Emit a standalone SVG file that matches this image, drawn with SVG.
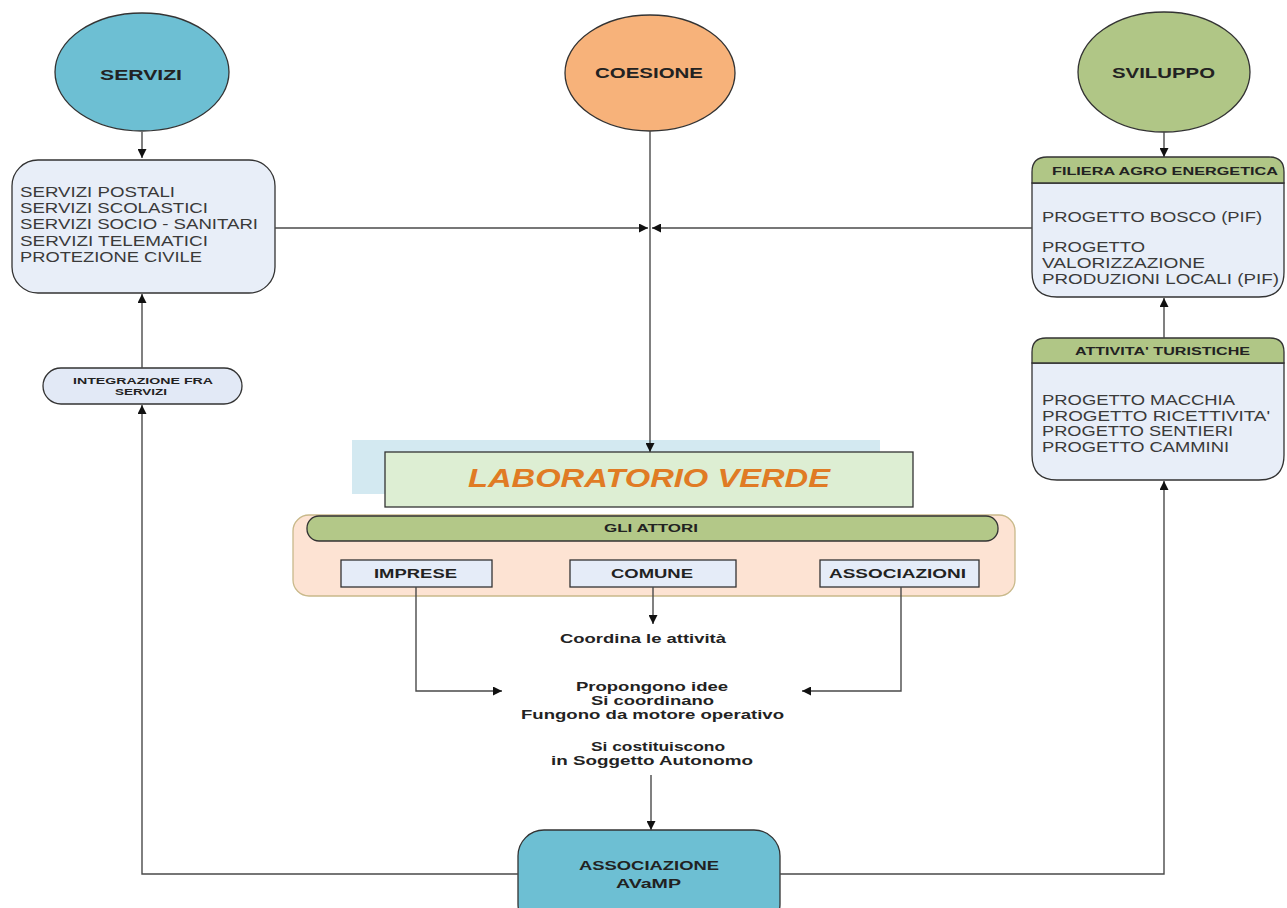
<svg xmlns="http://www.w3.org/2000/svg" width="1287" height="908" viewBox="0 0 1287 908">
<defs>
<marker id="ah" viewBox="0 0 10 10" refX="10" refY="5" markerWidth="10" markerHeight="9" markerUnits="userSpaceOnUse" orient="auto">
<path d="M0,0 L10,5 L0,10 z" fill="#111"/>
</marker>
</defs>
<style>
.t{font-family:"Liberation Sans",Arial,sans-serif;fill:#3a3a3a}
.b{font-weight:bold;fill:#222}
.ln{fill:none;stroke:#4a4a4a;stroke-width:1.4}
.box{stroke:#333;stroke-width:1.3}
</style>
<rect width="1287" height="908" fill="#fff"/>

<g id="servizi">
<ellipse cx="142" cy="72" rx="87" ry="59" fill="#6dbfd3" class="box"/>
<text x="100" y="80" class="t b" font-size="14" textLength="82" lengthAdjust="spacingAndGlyphs">SERVIZI</text>
</g>

<g id="coesione">
<ellipse cx="650" cy="73" rx="85" ry="58" fill="#f7b27a" class="box"/>
<text x="595" y="78" class="t b" font-size="14" textLength="108" lengthAdjust="spacingAndGlyphs">COESIONE</text>
</g>

<g id="sviluppo">
<ellipse cx="1164" cy="72" rx="86" ry="60" fill="#b0c686" class="box"/>
<text x="1112" y="78" class="t b" font-size="14" textLength="103" lengthAdjust="spacingAndGlyphs">SVILUPPO</text>
</g>

<g id="servizi-list">
<rect x="12" y="160" width="263" height="133" rx="26" fill="#e8eef8" class="box"/>
<g class="t" font-size="14.5">
<text x="20" y="197" textLength="155" lengthAdjust="spacingAndGlyphs">SERVIZI POSTALI</text>
<text x="20" y="213" textLength="188" lengthAdjust="spacingAndGlyphs">SERVIZI SCOLASTICI</text>
<text x="20" y="229" textLength="238" lengthAdjust="spacingAndGlyphs">SERVIZI SOCIO - SANITARI</text>
<text x="20" y="246" textLength="188" lengthAdjust="spacingAndGlyphs">SERVIZI TELEMATICI</text>
<text x="20" y="262" textLength="182" lengthAdjust="spacingAndGlyphs">PROTEZIONE CIVILE</text>
</g>
</g>

<g id="integrazione">
<rect x="43" y="368" width="199" height="36" rx="18" fill="#e2e9f6" class="box"/>
<text x="73" y="384" class="t b" font-size="9.5" textLength="140" lengthAdjust="spacingAndGlyphs">INTEGRAZIONE FRA</text>
<text x="115" y="395" class="t b" font-size="9.5" textLength="52" lengthAdjust="spacingAndGlyphs">SERVIZI</text>
</g>

<g id="filiera">
<path d="M1032,272 V183 H1284 V272 Q1284,297 1259,297 H1057 Q1032,297 1032,272 Z" fill="#e8eef8" class="box"/>
<path d="M1032,183 V172 Q1032,157 1047,157 H1269 Q1284,157 1284,172 V183 Z" fill="#b0c686" class="box"/>
<text x="1052" y="175" class="t b" font-size="11.5" textLength="226" lengthAdjust="spacingAndGlyphs">FILIERA AGRO ENERGETICA</text>
<g class="t" font-size="14.5">
<text x="1042" y="222" textLength="220" lengthAdjust="spacingAndGlyphs">PROGETTO BOSCO (PIF)</text>
<text x="1042" y="252" textLength="103" lengthAdjust="spacingAndGlyphs">PROGETTO</text>
<text x="1042" y="268" textLength="163" lengthAdjust="spacingAndGlyphs">VALORIZZAZIONE</text>
<text x="1042" y="284" textLength="237" lengthAdjust="spacingAndGlyphs">PRODUZIONI LOCALI (PIF)</text>
</g>
</g>

<g id="turistiche">
<path d="M1032,455 V363 H1284 V455 Q1284,480 1259,480 H1057 Q1032,480 1032,455 Z" fill="#e8eef8" class="box"/>
<path d="M1032,363 V352 Q1032,338 1046,338 H1270 Q1284,338 1284,352 V363 Z" fill="#b0c686" class="box"/>
<text x="1075" y="355" class="t b" font-size="11.5" textLength="175" lengthAdjust="spacingAndGlyphs">ATTIVITA' TURISTICHE</text>
<g class="t" font-size="14.5">
<text x="1042" y="405" textLength="193" lengthAdjust="spacingAndGlyphs">PROGETTO MACCHIA</text>
<text x="1042" y="421" textLength="228" lengthAdjust="spacingAndGlyphs">PROGETTO RICETTIVITA'</text>
<text x="1042" y="436" textLength="191" lengthAdjust="spacingAndGlyphs">PROGETTO SENTIERI</text>
<text x="1042" y="452" textLength="187" lengthAdjust="spacingAndGlyphs">PROGETTO CAMMINI</text>
</g>
</g>

<g id="laboratorio">
<rect x="352" y="440" width="528" height="54" fill="#d3e9f1"/>
<rect x="385" y="452" width="528" height="55" fill="#ddeed3" class="box"/>
<text x="468" y="487" font-family="Liberation Sans,Arial,sans-serif" font-size="25" font-weight="bold" font-style="italic" fill="#e07b24" textLength="362" lengthAdjust="spacingAndGlyphs">LABORATORIO VERDE</text>
</g>

<g id="attori">
<rect x="293" y="515" width="722" height="81" rx="16" fill="#fde3d3" stroke="#c9b98a" stroke-width="1.3"/>
<rect x="307" y="516" width="691" height="25" rx="12" fill="#b3c888" class="box"/>
<text x="604" y="532" class="t b" font-size="10.5" textLength="94" lengthAdjust="spacingAndGlyphs">GLI ATTORI</text>
</g>

<g id="imprese">
<rect x="341" y="560" width="151" height="27" fill="#e5ecf8" class="box"/>
<text x="374" y="578" class="t b" font-size="13" textLength="83" lengthAdjust="spacingAndGlyphs">IMPRESE</text>
</g>
<g id="comune">
<rect x="570" y="560" width="166" height="27" fill="#e5ecf8" class="box"/>
<text x="611" y="578" class="t b" font-size="13" textLength="82" lengthAdjust="spacingAndGlyphs">COMUNE</text>
</g>
<g id="associazioni">
<rect x="820" y="560" width="159" height="27" fill="#e5ecf8" class="box"/>
<text x="829" y="578" class="t b" font-size="13" textLength="137" lengthAdjust="spacingAndGlyphs">ASSOCIAZIONI</text>
</g>

<g id="labels" class="t b" font-size="13">
<text x="560" y="643" textLength="166" lengthAdjust="spacingAndGlyphs">Coordina le attività</text>
<text x="576" y="691" textLength="152" lengthAdjust="spacingAndGlyphs">Propongono idee</text>
<text x="591" y="705" textLength="123" lengthAdjust="spacingAndGlyphs">Si coordinano</text>
<text x="521" y="719" textLength="263" lengthAdjust="spacingAndGlyphs">Fungono da motore operativo</text>
<text x="591" y="751" textLength="134" lengthAdjust="spacingAndGlyphs">Si costituiscono</text>
<text x="551" y="765" textLength="202" lengthAdjust="spacingAndGlyphs">in Soggetto Autonomo</text>
</g>

<g id="avamp">
<rect x="518" y="830" width="262" height="100" rx="26" fill="#6dbfd3" class="box"/>
<text x="579" y="870" class="t b" font-size="12" textLength="140" lengthAdjust="spacingAndGlyphs">ASSOCIAZIONE</text>
<text x="616" y="888" class="t b" font-size="12" textLength="65" lengthAdjust="spacingAndGlyphs">AVaMP</text>
</g>

<g id="connectors">
<path class="ln" d="M142,132 V158" marker-end="url(#ah)"/>
<path class="ln" d="M1164,132 V157" marker-end="url(#ah)"/>
<path class="ln" d="M650,131 V452" marker-end="url(#ah)"/>
<path class="ln" d="M275,228 H648" marker-end="url(#ah)"/>
<path class="ln" d="M1032,228 H652" marker-end="url(#ah)"/>
<path class="ln" d="M142,368 V294" marker-end="url(#ah)"/>
<path class="ln" d="M518,874 H142 V405" marker-end="url(#ah)"/>
<path class="ln" d="M780,874 H1164 V481" marker-end="url(#ah)"/>
<path class="ln" d="M1164,338 V298" marker-end="url(#ah)"/>
<path class="ln" d="M653,587 V624" marker-end="url(#ah)"/>
<path class="ln" d="M416,587 V691 H502" marker-end="url(#ah)"/>
<path class="ln" d="M901,587 V691 H802" marker-end="url(#ah)"/>
<path class="ln" d="M651,775 V830" marker-end="url(#ah)"/>
</g>
</svg>
